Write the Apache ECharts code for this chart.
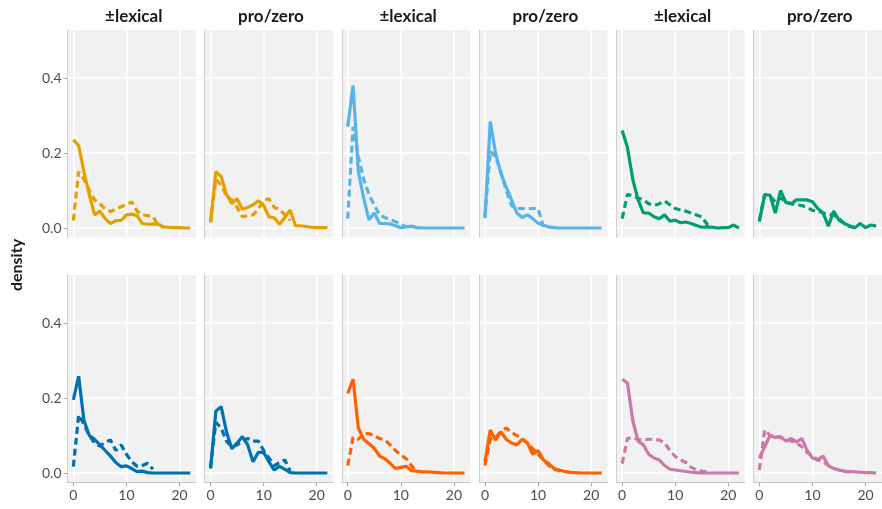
<!DOCTYPE html>
<html><head><meta charset="utf-8">
<script src="https://cdn.jsdelivr.net/npm/echarts@6/dist/echarts.min.js"></script>
<style>html,body{margin:0;padding:0;background:#fff}#c{width:882px;height:509px}</style>
</head><body><div id="c"></div>
<script>
const xValues = [0,1,2,3,4,5,6,7,8,9,10,11,12,13,14,15,16,17,18,19,20,21,22];
const stripLabels = ['±lexical','pro/zero','±lexical','pro/zero','±lexical','pro/zero'];
const xTicks = [0,10,20];
const yTicks = [0,0.2,0.4];
const panelColors = ['#E69F00','#E69F00','#56B4E9','#56B4E9','#009E73','#009E73',
                     '#0072B2','#0072B2','#FF6100','#FF6100','#CC79A7','#CC79A7'];

const solid1  = [0.235,0.22,0.15,0.09,0.035,0.045,0.025,0.012,0.02,0.02,0.035,0.037,0.033,0.012,0.01,0.011,0.01,0.003,0.002,0.001,0.001,0,0];
const dashed1 = [0.02,0.15,0.13,0.1,0.075,0.065,0.05,0.044,0.05,0.057,0.062,0.07,0.045,0.035,0.033,0.03,0.008,0.002];
const solid2  = [0.017,0.15,0.137,0.09,0.065,0.078,0.05,0.055,0.062,0.073,0.06,0.03,0.027,0.01,0.028,0.048,0.006,0.006,0.004,0.002,0.001,0.001,0.001];
const dashed2 = [0.015,0.13,0.115,0.085,0.075,0.055,0.03,0.033,0.035,0.05,0.075,0.078,0.055,0.05,0.035,0.02];
const solid3  = [0.27,0.38,0.15,0.08,0.022,0.04,0.012,0.012,0.011,0.006,0.001,0.003,0.005,0.001,0,0,0,0,0,0,0,0,0];
const dashed3 = [0.025,0.27,0.19,0.13,0.09,0.06,0.035,0.028,0.022,0.017,0.01,0.003];
const solid4  = [0.026,0.284,0.2,0.145,0.11,0.075,0.04,0.028,0.035,0.025,0.013,0.008,0.003,0.001,0,0,0,0,0,0,0,0,0];
const dashed4 = [0.03,0.205,0.19,0.15,0.1,0.06,0.052,0.052,0.052,0.052,0.052,0.003];
const solid5  = [0.26,0.215,0.13,0.075,0.04,0.04,0.03,0.025,0.035,0.018,0.021,0.014,0.016,0.012,0.007,0.002,0.003,0.002,0,0.001,0.001,0.008,0];
const dashed5 = [0.025,0.09,0.085,0.08,0.075,0.065,0.06,0.065,0.072,0.062,0.052,0.048,0.045,0.04,0.035,0.03,0.01,0.002];
const solid6  = [0.017,0.088,0.088,0.04,0.1,0.068,0.065,0.075,0.075,0.075,0.07,0.052,0.04,0.005,0.045,0.021,0.012,0.006,0.001,0.012,0.001,0.008,0.005];
const dashed6 = [0.02,0.09,0.085,0.07,0.08,0.07,0.065,0.062,0.06,0.055,0.047,0.045,0.04,0.037,0.035,0.025,0.012,0.004,0.001];
const solid7  = [0.195,0.258,0.14,0.1,0.09,0.075,0.06,0.045,0.028,0.017,0.019,0.012,0.004,0.005,0.001,0,0,0,0,0,0,0,0];
const dashed7 = [0.017,0.155,0.13,0.1,0.08,0.072,0.082,0.088,0.06,0.075,0.05,0.03,0.018,0.02,0.026,0.01];
const solid8  = [0.012,0.165,0.177,0.11,0.065,0.08,0.097,0.075,0.03,0.055,0.055,0.03,0.008,0.018,0.01,0.001,0,0,0,0,0,0,0];
const dashed8 = [0.015,0.135,0.12,0.085,0.07,0.075,0.085,0.092,0.085,0.085,0.06,0.04,0.02,0.028,0.035,0.005];
const solid9  = [0.212,0.25,0.12,0.09,0.078,0.066,0.045,0.038,0.026,0.012,0.015,0.018,0.006,0.005,0.003,0.003,0.002,0.001,0,0,0,0,0];
const dashed9 = [0.02,0.095,0.09,0.105,0.105,0.1,0.092,0.088,0.075,0.06,0.048,0.038,0.02,0.003];
const solid10 = [0.03,0.115,0.088,0.11,0.09,0.08,0.075,0.09,0.08,0.05,0.06,0.035,0.025,0.012,0.008,0.004,0.002,0.001,0,0,0,0,0];
const dashed10= [0.02,0.09,0.095,0.11,0.12,0.108,0.1,0.092,0.08,0.065,0.05,0.035,0.02,0.01,0.006,0.004,0.002];
const solid11 = [0.25,0.24,0.14,0.085,0.075,0.05,0.04,0.035,0.02,0.01,0.008,0.006,0.004,0.002,0.001,0,0,0,0,0,0,0,0];
const dashed11= [0.025,0.092,0.095,0.09,0.088,0.09,0.09,0.088,0.08,0.06,0.044,0.035,0.028,0.015,0.008,0.005,0.003];
const solid12 = [0.04,0.07,0.1,0.095,0.097,0.085,0.092,0.083,0.092,0.06,0.04,0.035,0.045,0.02,0.012,0.008,0.005,0.004,0.003,0.002,0.001,0.001,0];
const dashed12= [0.008,0.115,0.1,0.098,0.095,0.09,0.085,0.08,0.07,0.055,0.045,0.035,0.03,0.02,0.012,0.008,0.004,0.002];

const solids = [solid1,solid2,solid3,solid4,solid5,solid6,solid7,solid8,solid9,solid10,solid11,solid12];
const dasheds = [dashed1,dashed2,dashed3,dashed4,dashed5,dashed6,dashed7,dashed8,dashed9,dashed10,dashed11,dashed12];

const FONT = 'Lato';
const L0 = 67.5, STEP = 137.2, W = 128.5, TOPS = [30, 275], H = 207.4;
const grids = [], xAxes = [], yAxes = [], series = [], graphics = [];
for (let i = 0; i < 12; i++) {
  const r = Math.floor(i / 6), c = i % 6;
  grids.push({left: L0 + STEP * c, top: TOPS[r], width: W, height: H,
    show: true, backgroundColor: '#F1F1F1', borderWidth: 0, containLabel: false});
  xAxes.push({type: 'value', gridIndex: i, min: -1.1, max: 23.1,
    axisLine: {show: r === 1, onZero: false, lineStyle: {color: '#C8C8C8', width: 1}},
    axisTick: {show: r === 1, length: 4, lineStyle: {color: '#AAAAAA'}, customValues: xTicks},
    axisLabel: {show: r === 1, customValues: xTicks, color: '#4D4D4D', fontSize: 14, fontFamily: FONT, margin: 6},
    splitLine: {show: true, lineStyle: {color: '#FFFFFF', width: 1.5}}});
  yAxes.push({type: 'value', gridIndex: i, min: -0.025, max: 0.528,
    axisLine: {show: true, onZero: false, lineStyle: {color: '#D0D0D0', width: 1}},
    axisTick: {show: c === 0, length: 4, lineStyle: {color: '#AAAAAA'}, customValues: yTicks},
    axisLabel: {show: c === 0, customValues: yTicks, color: '#4D4D4D', fontSize: 14, fontFamily: FONT, margin: 6,
      formatter: v => v.toFixed(1)},
    splitLine: {show: true, lineStyle: {color: '#FFFFFF', width: 1.5}}});
  const col = panelColors[i];
  series.push({type: 'line', xAxisIndex: i, yAxisIndex: i, showSymbol: false, symbol: 'none',
    data: dasheds[i].map((v, k) => [xValues[k], v]),
    lineStyle: {color: col, width: 3.2, type: [7, 4]}, z: 2, silent: true});
  series.push({type: 'line', xAxisIndex: i, yAxisIndex: i, showSymbol: false, symbol: 'none',
    data: solids[i].map((v, k) => [xValues[k], v]),
    lineStyle: {color: col, width: 3.2, type: 'solid'}, z: 3, silent: true});
  if (r === 0) {
    graphics.push({type: 'text', x: L0 + STEP * c + W / 2 + 2, y: 17,
      style: {text: stripLabels[c], fill: '#1A1A1A', font: 'bold 17px ' + FONT, textAlign: 'center', textVerticalAlign: 'middle'}});
  }
}
graphics.push({type: 'text', x: 17, y: 265, rotation: Math.PI / 2,
  style: {text: 'density', fill: '#1A1A1A', font: 'bold 16px ' + FONT, textAlign: 'center', textVerticalAlign: 'middle'}});

const chart = echarts.init(document.getElementById('c'), null, {renderer: 'canvas'});
chart.setOption({animation: false, grid: grids, xAxis: xAxes, yAxis: yAxes, series: series, graphic: graphics});
</script></body></html>
